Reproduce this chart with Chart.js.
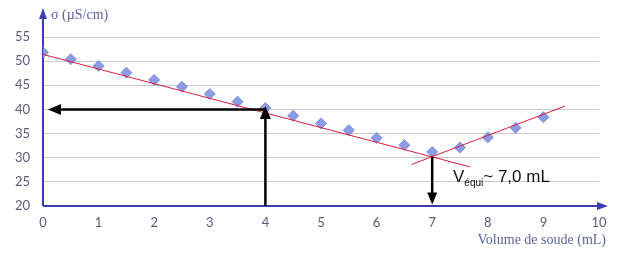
<!DOCTYPE html>
<html><head><meta charset="utf-8">
<script src="https://cdn.jsdelivr.net/npm/chart.js@4/dist/chart.umd.min.js"></script>
<style>html,body{margin:0;padding:0;background:#fff}</style>
</head><body>
<canvas id="c" width="628" height="270"></canvas>
<script>
// ---- data ----
const volumes = [0, 0.5, 1, 1.5, 2, 2.5, 3, 3.5, 4, 4.5, 5, 5.5, 6, 6.5, 7, 7.5, 8, 8.5, 9];
const conductivity = [51.8, 50.4, 49.0, 47.6, 46.1, 44.7, 43.2, 41.6, 40.3, 38.7, 37.1, 35.7, 34.1, 32.6, 31.2, 32.1, 34.2, 36.2, 38.4];
const fitDownX = [0, 7.68];
const fitDownY = [51.4, 28.1];
const fitUpX = [6.63, 9.39];
const fitUpY = [28.6, 40.7];
const yTickValues = [20, 25, 30, 35, 40, 45, 50, 55];
const xTickValues = [0, 1, 2, 3, 4, 5, 6, 7, 8, 9, 10];
// reading arrows (data coordinates): [x1, y1, x2, y2]
const arrowReadLeft = [4, 40, 0.09, 40];
const arrowReadUp = [4, 20, 4, 40.7];
const arrowEquiDown = [7, 30.2, 7, 20.3];
const yTitle = "σ (µS/cm)";
const xTitle = "Volume de soude (mL)";
const equiMain = "V";
const equiSub = "équi";
const equiRest = "~ 7,0 mL";

const AXIS = "#3c3cb0";
const TICK = "#5a5a78";
const TITLE = "#5c60a0";

function arrow(ctx, x1, y1, x2, y2, color, lw, hl, hw) {
  const a = Math.atan2(y2 - y1, x2 - x1);
  ctx.save();
  ctx.strokeStyle = color; ctx.fillStyle = color; ctx.lineWidth = lw;
  ctx.beginPath();
  ctx.moveTo(x1, y1);
  ctx.lineTo(x2 - Math.cos(a) * hl * 0.8, y2 - Math.sin(a) * hl * 0.8);
  ctx.stroke();
  ctx.beginPath();
  ctx.moveTo(x2, y2);
  ctx.lineTo(x2 - Math.cos(a) * hl + Math.sin(a) * hw / 2, y2 - Math.sin(a) * hl - Math.cos(a) * hw / 2);
  ctx.lineTo(x2 - Math.cos(a) * hl - Math.sin(a) * hw / 2, y2 - Math.sin(a) * hl + Math.cos(a) * hw / 2);
  ctx.closePath();
  ctx.fill();
  ctx.restore();
}

const decor = {
  id: "decor",
  beforeDatasetsDraw(chart) {
    const ctx = chart.ctx, ca = chart.chartArea;
    // axes with arrows
    arrow(ctx, ca.left, ca.bottom, ca.left, 8, AXIS, 2, 11, 8);
    arrow(ctx, ca.left, ca.bottom, 608, ca.bottom, AXIS, 2, 11, 8);
  },
  afterDatasetsDraw(chart) {
    const ctx = chart.ctx, xs = chart.scales.x, ys = chart.scales.y;
    const P = (a) => [xs.getPixelForValue(a[0]), ys.getPixelForValue(a[1]), xs.getPixelForValue(a[2]), ys.getPixelForValue(a[3])];
    let p = P(arrowReadLeft); arrow(ctx, p[0], p[1], p[2], p[3], "#000", 2.5, 13, 11);
    p = P(arrowReadUp); arrow(ctx, p[0], p[1], p[2], p[3], "#000", 2.5, 13, 11);
    p = P(arrowEquiDown); arrow(ctx, p[0], p[1], p[2], p[3], "#000", 2.5, 12, 10);

    ctx.save();
    ctx.fillStyle = "#111";
    ctx.textBaseline = "alphabetic";
    ctx.textAlign = "left";
    let x = 453;
    ctx.font = '17px "Liberation Sans", Arial, sans-serif';
    ctx.fillText(equiMain, x, 182);
    x += ctx.measureText(equiMain).width;
    ctx.font = '10px "Liberation Sans", Arial, sans-serif';
    ctx.fillText(equiSub, x, 186);
    x += ctx.measureText(equiSub).width;
    ctx.font = '17px "Liberation Sans", Arial, sans-serif';
    ctx.fillText(equiRest, x, 182);

    ctx.fillStyle = TITLE;
    ctx.font = '14px "Liberation Serif", "DejaVu Serif", serif';
    ctx.textBaseline = "middle";
    ctx.fillText(yTitle, 51, 15);
    ctx.textAlign = "right";
    ctx.fillText(xTitle, 606, 240);
    ctx.restore();
  }
};

new Chart(document.getElementById("c"), {
  type: "scatter",
  data: {
    datasets: [
      {
        type: "line",
        data: fitDownX.map((v, i) => ({ x: v, y: fitDownY[i] })),
        borderColor: "#dc1e3c", borderWidth: 1, pointRadius: 0, fill: false, tension: 0
      },
      {
        type: "line",
        data: fitUpX.map((v, i) => ({ x: v, y: fitUpY[i] })),
        borderColor: "#dc1e3c", borderWidth: 1, pointRadius: 0, fill: false, tension: 0
      },
      {
        data: volumes.map((v, i) => ({ x: v, y: conductivity[i] })),
        pointStyle: "rectRot", pointRadius: 5.5,
        backgroundColor: "rgba(128,145,225,0.9)", borderColor: "rgba(120,135,215,0.9)", borderWidth: 1
      }
    ]
  },
  options: {
    responsive: false,
    animation: false,
    layout: { padding: { top: 37, right: 29, left: 0, bottom: 0 } },
    plugins: { legend: { display: false }, tooltip: { enabled: false } },
    scales: {
      x: {
        type: "linear", min: 0, max: 10,
        afterFit: (s) => { s.height = 64; },
        afterBuildTicks: (s) => { s.ticks = xTickValues.map(v => ({ value: v })); },
        grid: { display: false, drawTicks: false },
        border: { display: false },
        ticks: { color: TICK, font: { family: "Lato, 'Open Sans', sans-serif", size: 13 }, padding: 9, maxRotation: 0 }
      },
      y: {
        type: "linear", min: 20, max: 55,
        afterFit: (s) => { s.width = 43; },
        afterBuildTicks: (s) => { s.ticks = yTickValues.map(v => ({ value: v })); },
        grid: { color: (c) => c.tick && c.tick.value === 20 ? "rgba(0,0,0,0)" : "#c9c9c9", lineWidth: 1, drawTicks: false },
        border: { display: false },
        ticks: { color: TICK, font: { family: "Lato, 'Open Sans', sans-serif", size: 13 }, padding: 13 }
      }
    }
  },
  plugins: [decor]
});
</script>
</body></html>
